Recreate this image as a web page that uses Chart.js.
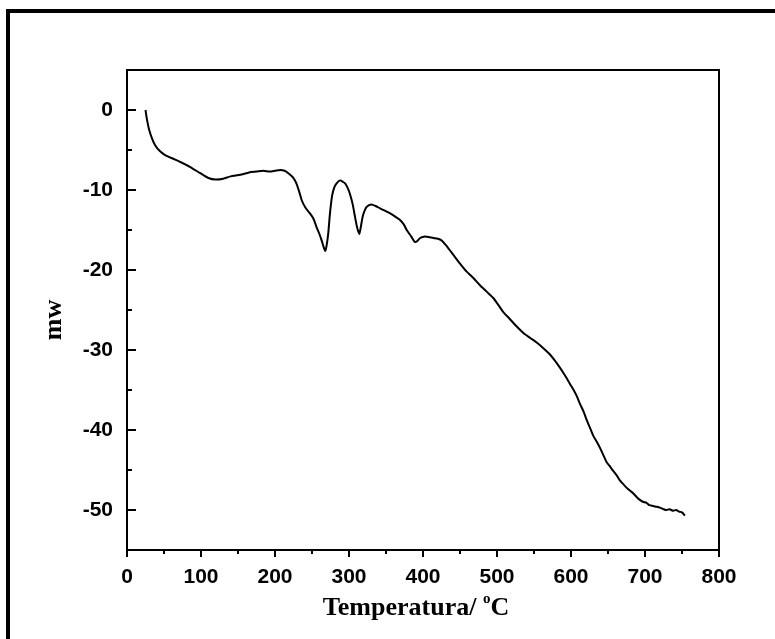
<!DOCTYPE html>
<html>
<head>
<meta charset="utf-8">
<script src="https://cdn.jsdelivr.net/npm/chart.js@4/dist/chart.umd.min.js"></script>
<style>
  html, body { margin: 0; padding: 0; background: #fff; }
  #wrap { width: 775px; height: 639px; position: relative; }
</style>
</head>
<body>
<div id="wrap"><canvas id="c" width="775" height="639"></canvas></div>
<script>
// DSC trace: temperature (°C) and heat flow (mW)
const temperature = [
  25, 27, 30, 34, 38, 44, 51, 60, 72, 85, 99, 110, 120, 130, 140, 153, 165, 175, 184, 193,
  200, 207, 213, 218, 224, 229, 233, 236, 241, 247, 252, 256, 260, 263, 266, 268, 270, 272,
  274, 277, 280, 283, 288, 292, 295, 298, 301, 305, 308, 311, 314, 316, 318.5, 321, 324, 330,
  336, 342, 355, 362, 369, 374, 378, 384, 389, 392, 396, 403, 409, 414, 420, 425, 431, 436,
  441, 450, 459, 468, 477, 486, 495, 502, 508, 517, 527, 536, 545, 554, 563, 571, 578, 585,
  590, 594, 599, 603, 608, 612, 617, 621, 626, 630, 635, 639, 644, 648, 653, 657, 662, 666,
  670, 675, 680, 684, 689, 694, 698, 702, 706, 711, 716, 720, 725, 729, 733, 738, 742, 746,
  750, 754
];
const heatFlow = [
  0, -1.2, -2.5, -3.6, -4.4, -5.1, -5.6, -6.0, -6.5, -7.1, -7.9, -8.5, -8.7, -8.6, -8.3, -8.1, -7.8, -7.7, -7.6, -7.7,
  -7.6, -7.5, -7.6, -7.9, -8.4, -9.2, -10.3, -11.25, -12.2, -12.9, -13.6, -14.6, -15.5, -16.3, -17.2, -17.6, -16.8, -15.4,
  -13.2, -10.8, -9.7, -9.2, -8.8, -9.0, -9.2, -9.7, -10.4, -11.8, -13.3, -14.7, -15.5, -14.6, -13.3, -12.6, -12.1, -11.8,
  -12.0, -12.3, -12.9, -13.3, -13.75, -14.3, -15.0, -15.8, -16.5, -16.4, -16.0, -15.8, -15.9, -16.0, -16.1, -16.3, -16.9, -17.5,
  -18.1, -19.2, -20.2, -21.0, -21.9, -22.7, -23.5, -24.4, -25.2, -26.1, -27.1, -27.9, -28.5, -29.1, -29.8, -30.5, -31.3, -32.2,
  -32.9, -33.5, -34.3, -34.9, -35.8, -36.7, -37.7, -38.7, -39.8, -40.7, -41.5, -42.2, -43.2, -44.0, -44.6, -45.1, -45.7, -46.3,
  -46.7, -47.2, -47.6, -47.9, -48.4, -48.8, -49.0, -49.1, -49.4, -49.5, -49.6, -49.7, -49.9, -50.0, -49.9, -50.1, -50.0, -50.2,
  -50.3, -50.7
];
const xTicks = [0, 100, 200, 300, 400, 500, 600, 700, 800];
const yTicks = [-50, -40, -30, -20, -10, 0];
const xMinorTicks = [50, 150, 250, 350, 450, 550, 650, 750];
const yMinorTicks = [-45, -35, -25, -15, -5];

const points = temperature.map((t, i) => ({ x: t, y: heatFlow[i] }));

// Page frame, plot box, tick marks and axis titles
const framePlugin = {
  id: 'frame',
  beforeDraw(chart) {
    const ctx = chart.ctx;
    ctx.save();
    ctx.fillStyle = '#fff';
    ctx.fillRect(0, 0, chart.width, chart.height);
    ctx.fillStyle = '#000';
    ctx.fillRect(6, 9, chart.width - 6, 4);
    ctx.fillRect(6, 9, 4, chart.height - 9);
    ctx.restore();
  },
  afterDraw(chart) {
    const ctx = chart.ctx;
    const a = chart.chartArea;
    const xs = chart.scales.x, ys = chart.scales.y;
    ctx.save();
    ctx.strokeStyle = '#000';
    ctx.lineWidth = 2;
    ctx.strokeRect(a.left, a.top, a.right - a.left, a.bottom - a.top);
    ctx.beginPath();
    xTicks.forEach(v => { const p = Math.round(xs.getPixelForValue(v)); ctx.moveTo(p, a.bottom); ctx.lineTo(p, a.bottom + 7); });
    xMinorTicks.forEach(v => { const p = Math.round(xs.getPixelForValue(v)); ctx.moveTo(p, a.bottom); ctx.lineTo(p, a.bottom + 4); });
    yTicks.forEach(v => { const p = Math.round(ys.getPixelForValue(v)); ctx.moveTo(a.left, p); ctx.lineTo(a.left + 9, p); });
    yMinorTicks.forEach(v => { const p = Math.round(ys.getPixelForValue(v)); ctx.moveTo(a.left, p); ctx.lineTo(a.left + 5, p); });
    ctx.stroke();

    // axis titles
    ctx.fillStyle = '#000';
    ctx.font = 'bold 26px "Liberation Serif", "Times New Roman", serif';
    ctx.textBaseline = 'alphabetic';
    const main = 'Temperatura/ ';
    const wMain = ctx.measureText(main).width;
    const wC = ctx.measureText('C').width;
    ctx.font = 'bold 15px "Liberation Serif", "Times New Roman", serif';
    const wO = ctx.measureText('o').width;
    const total = wMain + wO + wC;
    let x0 = (a.left + a.right) / 2 - 7 - total / 2;
    const base = 615;
    ctx.font = 'bold 26px "Liberation Serif", "Times New Roman", serif';
    ctx.textAlign = 'left';
    ctx.fillText(main, x0, base);
    ctx.font = 'bold 15px "Liberation Serif", "Times New Roman", serif';
    ctx.fillText('o', x0 + wMain, base - 12);
    ctx.font = 'bold 26px "Liberation Serif", "Times New Roman", serif';
    ctx.fillText('C', x0 + wMain + wO, base);

    ctx.translate(54, 320);
    ctx.rotate(-Math.PI / 2);
    ctx.textAlign = 'center';
    ctx.textBaseline = 'middle';
    ctx.fillText('mw', 0, 0);
    ctx.restore();
  }
};

new Chart(document.getElementById('c'), {
  type: 'scatter',
  data: {
    datasets: [{
      data: points,
      showLine: true,
      borderColor: '#000',
      borderWidth: 2,
      pointRadius: 0,
      tension: 0.2,
      fill: false
    }]
  },
  options: {
    responsive: false,
    animation: false,
    devicePixelRatio: 1,
    layout: { padding: { left: 10, top: 70, right: 56, bottom: 0 } },
    plugins: { legend: { display: false }, tooltip: { enabled: false } },
    scales: {
      x: {
        type: 'linear', min: 0, max: 800,
        grid: { display: false, drawTicks: false },
        border: { display: false },
        afterBuildTicks(s) { s.ticks = xTicks.map(v => ({ value: v })); },
        afterFit(s) { s.height = 89; },
        ticks: {
          padding: 15, maxRotation: 0, autoSkip: false, color: '#000',
          font: { family: '"Liberation Sans", Arial, sans-serif', size: 21, weight: 'bold' }
        }
      },
      y: {
        type: 'linear', min: -55, max: 5,
        grid: { display: false, drawTicks: false },
        border: { display: false },
        afterBuildTicks(s) { s.ticks = yTicks.map(v => ({ value: v })); },
        afterFit(s) { s.width = 117; },
        ticks: {
          padding: 14, autoSkip: false, color: '#000',
          font: { family: '"Liberation Sans", Arial, sans-serif', size: 21, weight: 'bold' }
        }
      }
    }
  },
  plugins: [framePlugin]
});
</script>
</body>
</html>
